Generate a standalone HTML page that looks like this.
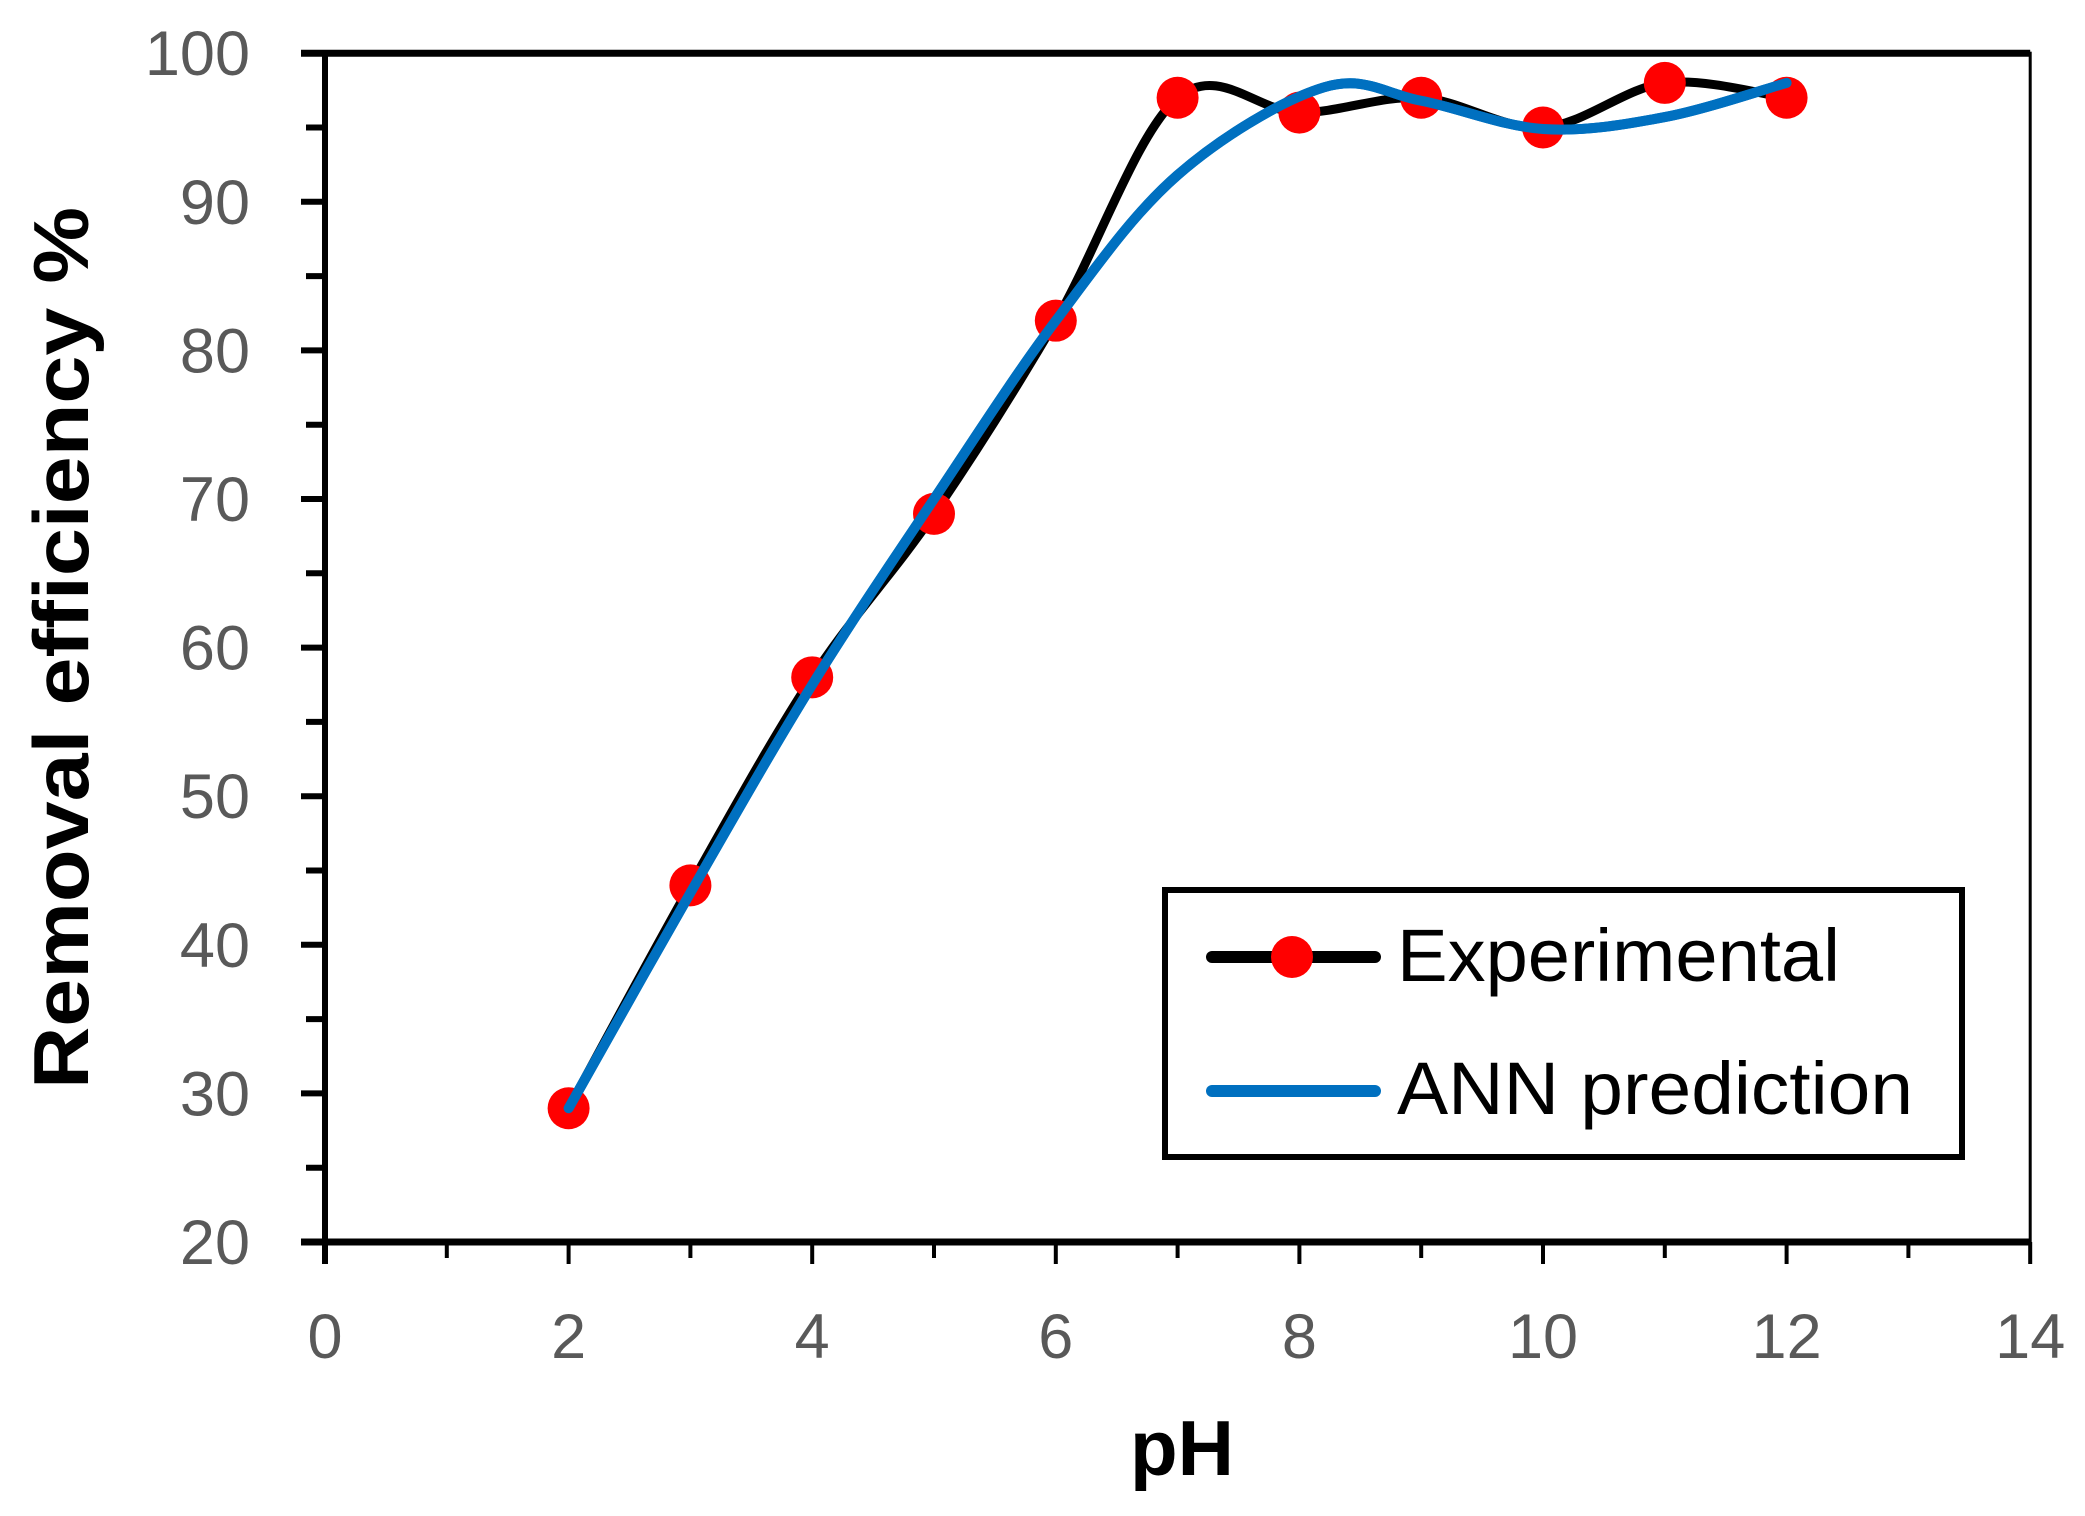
<!DOCTYPE html>
<html><head><meta charset="utf-8"><style>html,body{margin:0;padding:0;background:#fff}svg{display:block}</style></head>
<body>
<svg id="chart" width="2085" height="1516" viewBox="0 0 2085 1516" xmlns="http://www.w3.org/2000/svg" font-family="'Liberation Sans', sans-serif"></svg>
<script>
const phValues = [2,3,4,5,6,7,8,9,10,11,12];
const experimentalValues = [29,44,58,69,82,97,96,97,95,98,97];
const annPh = [2,3,4,5,6,7,8.2,9,10,11,12];
const annValues = [29,43.5,57.5,70,82,91.8,97.7,96.8,94.9,95.7,98];
const xTicks = [0,2,4,6,8,10,12,14];
const yTicks = [20,30,40,50,60,70,80,90,100];

const X0=325, XU=121.8, Y20=1242, YU=14.86;
const sx = v => X0 + v*XU;
const sy = v => Y20 - (v-20)*YU;
const svg = document.getElementById('chart');
const NS='http://www.w3.org/2000/svg';
function mk(tag, attrs, parent){const e=document.createElementNS(NS,tag);for(const k in attrs)e.setAttribute(k,attrs[k]);(parent||svg).appendChild(e);return e;}
function spline(xs, ys){
  const p = xs.map((x,i)=>[sx(x),sy(ys[i])]);
  let d=`M${p[0][0]},${p[0][1]}`;
  for(let i=0;i<p.length-1;i++){
    const p0=p[Math.max(0,i-1)],p1=p[i],p2=p[i+1],p3=p[Math.min(p.length-1,i+2)];
    const c1=[p1[0]+(p2[0]-p0[0])/6,p1[1]+(p2[1]-p0[1])/6];
    const c2=[p2[0]-(p3[0]-p1[0])/6,p2[1]-(p3[1]-p1[1])/6];
    d+=` C${c1[0]},${c1[1]} ${c2[0]},${c2[1]} ${p2[0]},${p2[1]}`;
  }
  return d;
}
const frame = mk('rect',{x:sx(0),y:sy(100),width:sx(14)-sx(0),height:sy(20)-sy(100),fill:'none',stroke:'#000','stroke-width':3});


const xAxis = mk('line',{x1:sx(0)-24,y1:sy(20),x2:sx(14),y2:sy(20),stroke:'#000','stroke-width':7});


const yAxis = mk('line',{x1:sx(0),y1:sy(100)-3,x2:sx(0),y2:sy(20)+22,stroke:'#000','stroke-width':6});


const topLine = mk('line',{x1:sx(0)-24,y1:sy(100),x2:sx(14),y2:sy(100),stroke:'#000','stroke-width':7});


for(let v=20; v<=100; v+=5){
  const major = v%10===0;
  const t = mk('line',{x1:sx(0)-(major?24:19),y1:sy(v),x2:sx(0),y2:sy(v),stroke:'#000','stroke-width':6});
  
  
}
yTicks.forEach(v=>{
  const t = mk('text',{x:250,y:sy(v)+22,'text-anchor':'end','font-size':63,fill:'#595959'});
  t.textContent=v;
  
  
});
for(let v=0; v<=14; v+=1){
  const major = v%2===0;
  const t = mk('line',{x1:sx(v),y1:sy(20),x2:sx(v),y2:sy(20)+(major?22:16),stroke:'#000','stroke-width':4});
  
  
}
xTicks.forEach(v=>{
  const t = mk('text',{x:sx(v),y:1358,'text-anchor':'middle','font-size':63,fill:'#595959'});
  t.textContent=v;
  
  
});
const xt = mk('text',{x:1182,y:1475,'text-anchor':'middle','font-size':78,'font-weight':'bold',fill:'#000'});
xt.textContent='pH';


const yt = mk('text',{x:0,y:0,'text-anchor':'middle','font-size':78,'font-weight':'bold',fill:'#000',transform:'translate(88,648) rotate(-90)',textLength:882,lengthAdjust:'spacingAndGlyphs'});
yt.textContent='Removal efficiency %';


const exLine = mk('path',{d:spline(phValues,experimentalValues),fill:'none',stroke:'#000','stroke-width':9});


const annLine = mk('path',{d:spline(annPh,annValues),fill:'none',stroke:'#0070C0','stroke-width':10,'stroke-linecap':'round'});


phValues.forEach((p,i)=>{
  const c = mk('circle',{cx:sx(p),cy:sy(experimentalValues[i]),r:21,fill:'#FF0000'});
  
  
});
const annTop = mk('path',{d:spline(annPh,annValues),fill:'none',stroke:'#0070C0','stroke-width':10,'stroke-linecap':'round'});


const lg = mk('g',{});


mk('rect',{x:1165,y:890,width:797,height:267,fill:'#fff',stroke:'#000','stroke-width':6},lg);
const l1 = mk('line',{x1:1212,y1:957,x2:1375,y2:957,stroke:'#000','stroke-width':12,'stroke-linecap':'round'},lg);


const m1 = mk('circle',{cx:1292,cy:957,r:21,fill:'#FF0000'},lg);


const t1 = mk('text',{x:1397,y:981,'font-size':74,fill:'#000',textLength:443,lengthAdjust:'spacingAndGlyphs'},lg);
t1.textContent='Experimental';


const l2 = mk('line',{x1:1212,y1:1091,x2:1375,y2:1091,stroke:'#0070C0','stroke-width':12,'stroke-linecap':'round'},lg);


const t2 = mk('text',{x:1397,y:1114,'font-size':74,fill:'#000',textLength:516,lengthAdjust:'spacingAndGlyphs'},lg);
t2.textContent='ANN prediction';


</script>
</body></html>
